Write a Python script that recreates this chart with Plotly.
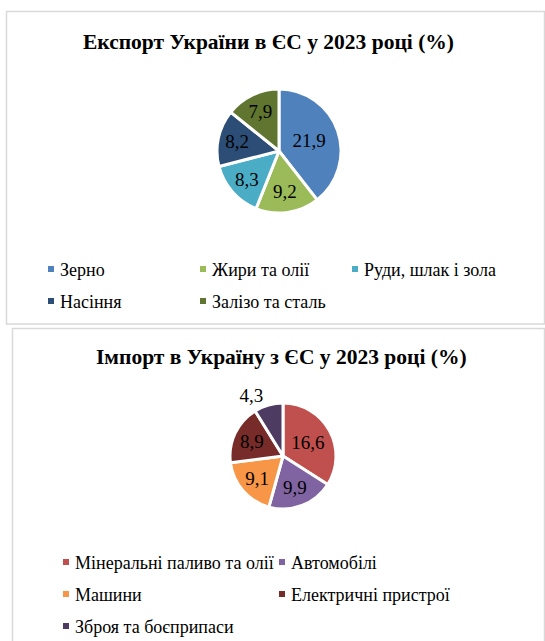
import plotly.graph_objects as go

W, H = 545, 641

# ---- data ----
export_title = "Експорт України в ЄС у 2023 році (%)"
export_labels = ["Зерно", "Жири та олії", "Руди, шлак і зола", "Насіння", "Залізо та сталь"]
export_values = [21.9, 9.2, 8.3, 8.2, 7.9]
export_colors = ["#4F81BD", "#9BBB59", "#4BACC6", "#2C4D75", "#5F7530"]

import_title = "Імпорт в Україну з ЄС у 2023 році (%)"
import_labels = ["Мінеральні паливо та олії", "Автомобілі", "Машини",
                 "Електричні пристрої", "Зброя та боєприпаси"]
import_values = [16.6, 9.9, 9.1, 8.9, 4.3]
import_colors = ["#C0504D", "#8064A2", "#F79646", "#772C2A", "#4D3B62"]
import_textpos = ["inside", "inside", "inside", "inside", "outside"]

FONT = "Liberation Serif, Times New Roman, serif"


def X(px):
    return px / W


def Y(py):
    return 1 - py / H


fig = go.Figure()


def add_pie(labels, values, colors, cx, cy, r, textpos):
    fig.add_trace(go.Pie(
        labels=labels, values=values, sort=False, direction="clockwise", rotation=0,
        marker=dict(colors=colors, line=dict(color="white", width=3)),
        texttemplate="%{value:.1f}", textposition=textpos,
        insidetextorientation="horizontal",
        textfont=dict(family=FONT, size=19, color="black"),
        domain=dict(x=[X(cx - r), X(cx + r)], y=[Y(cy + r), Y(cy - r)]),
        showlegend=False, hoverinfo="label+value",
    ))


add_pie(export_labels, export_values, export_colors, 279, 151, 62, "inside")
add_pie(import_labels, import_values, import_colors, 283, 456, 53, import_textpos)

shapes = []
annotations = []

# panel borders
shapes.append(dict(type="rect", xref="paper", yref="paper",
                   x0=X(6.5), x1=X(544.5), y0=Y(324), y1=Y(11.5),
                   line=dict(color="#D9D9D9", width=1.5), fillcolor="rgba(0,0,0,0)", layer="below"))
shapes.append(dict(type="rect", xref="paper", yref="paper",
                   x0=X(12.5), x1=X(544.5), y0=Y(700), y1=Y(328.5),
                   line=dict(color="#D9D9D9", width=1.5), fillcolor="rgba(0,0,0,0)", layer="below"))

# titles
for txt, cx, cy in [(export_title, 268, 42), (import_title, 281, 357)]:
    annotations.append(dict(text="<b>%s</b>" % txt, xref="paper", yref="paper",
                            x=X(cx), y=Y(cy), xanchor="center", yanchor="middle",
                            showarrow=False, font=dict(family=FONT, size=21.5, color="black")))


def add_legend(labels, colors, x_left, col_w, y_top, row_h, ncols):
    for i, (lab, col) in enumerate(zip(labels, colors)):
        c, rw = i % ncols, i // ncols
        mx = x_left + c * col_w
        my = y_top + rw * row_h
        shapes.append(dict(type="rect", xref="paper", yref="paper",
                           x0=X(mx), x1=X(mx + 6), y0=Y(my + 3), y1=Y(my - 3),
                           line=dict(width=0), fillcolor=col))
        annotations.append(dict(text=lab, xref="paper", yref="paper",
                                x=X(mx + 10), y=Y(my + 1), xanchor="left", yanchor="middle",
                                showarrow=False, font=dict(family=FONT, size=18, color="black")))


add_legend(export_labels, export_colors, 48, 152, 269, 32, 3)
add_legend(import_labels, import_colors, 63, 216, 562, 32, 2)

fig.update_layout(
    width=W, height=H, margin=dict(l=0, r=0, t=0, b=0),
    paper_bgcolor="white", plot_bgcolor="white",
    separators=", ",
    shapes=shapes, annotations=annotations,
    showlegend=False,
)

fig.write_html("out.html", config={"displayModeBar": False},
               post_script="document.body.style.margin='0';")
